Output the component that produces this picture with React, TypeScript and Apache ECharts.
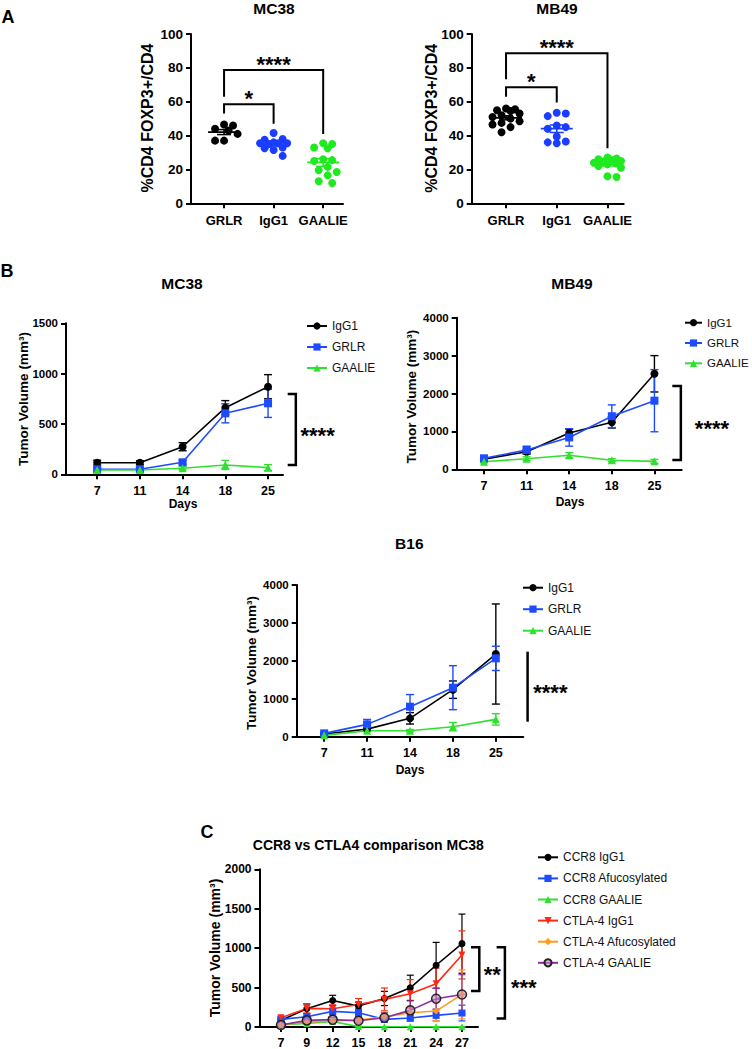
import React, { useEffect, useRef } from "react";
import * as echarts from "echarts";

const FONT = '"Liberation Sans", Arial, Helvetica, sans-serif';

// ---------------- Panel A (scatter, %CD4 FOXP3+/CD4) ----------------
const groupsA = ["GRLR", "IgG1", "GAALIE"];
const colorsA = ["#000000", "#1a3dff", "#1fea1f"];
const mc38A_GRLR = [46.5, 46, 44, 43, 41, 37, 37];
const mc38A_IgG1 = [41.5, 38, 37.5, 36, 35.5, 35.5, 35.5, 35, 33, 32.5, 31.5, 28];
const mc38A_GAALIE = [35.5, 35, 33, 32.5, 26, 25.5, 25, 21.5, 19.5, 18.5, 16.5, 13, 12];
const mb49A_GRLR = [56, 55.5, 55, 54.5, 53, 52, 51, 50, 48.5, 47.5, 46.5, 45, 42];
const mb49A_IgG1 = [53.5, 53, 51.5, 46, 45, 44, 39.5, 36.5, 36, 35.5];
const mb49A_GAALIE = [27, 26.5, 26, 25.5, 25, 24.5, 24, 23.5, 23, 22, 21, 16, 15.5];

// ---------------- Panel B (tumor volume) ----------------
const daysB = ["7", "11", "14", "18", "25"];
const namesB = ["IgG1", "GRLR", "GAALIE"];
const mc38B_IgG1 = [115, 115, 274, 662, 870];
const mc38B_IgG1_err = [25, 20, 40, 70, 120];
const mc38B_GRLR = [50, 50, 119, 606, 705];
const mc38B_GRLR_err = [15, 15, 20, 95, 140];
const mc38B_GAALIE = [43, 43, 60, 93, 66];
const mc38B_GAALIE_err = [10, 10, 15, 45, 30];

const mb49B_IgG1 = [264, 465, 960, 1240, 2520];
const mb49B_IgG1_err = [40, 60, 100, 150, 480];
const mb49B_GRLR = [290, 510, 840, 1400, 1810];
const mb49B_GRLR_err = [40, 100, 230, 300, 820];
const mb49B_GAALIE = [200, 280, 370, 240, 210];
const mb49B_GAALIE_err = [30, 50, 70, 40, 50];

const b16_IgG1 = [70, 200, 484, 1240, 2180];
const b16_IgG1_err = [20, 40, 150, 230, 1320];
const b16_GRLR = [88, 325, 791, 1292, 2066];
const b16_GRLR_err = [20, 130, 320, 580, 320];
const b16_GAALIE = [35, 158, 158, 264, 457];
const b16_GAALIE_err = [10, 30, 30, 110, 150];

// ---------------- Panel C ----------------
const daysC = ["7", "9", "12", "15", "18", "21", "24", "27"];
const namesC = ["CCR8 IgG1", "CCR8 Afucosylated", "CCR8 GAALIE", "CTLA-4 IgG1", "CTLA-4 Afucosylated", "CTLA-4 GAALIE"];
const c_CCR8_IgG1 = [84, 232, 337, 265, 362, 497, 783, 1057];
const c_CCR8_IgG1_err = [20, 60, 65, 50, 90, 160, 290, 375];
const c_CCR8_Afuc = [97, 130, 198, 181, 97, 114, 147, 177];
const c_CCR8_Afuc_err = [20, 40, 40, 50, 30, 40, 70, 100];
const c_CCR8_GAALIE = [30, 45, 70, 5, 3, 3, 2, 2];
const c_CCR8_GAALIE_err = [10, 15, 20, 5, 2, 2, 2, 2];
const c_CTLA4_IgG1 = [118, 236, 232, 286, 350, 421, 547, 914];
const c_CTLA4_IgG1_err = [20, 60, 50, 75, 145, 180, 200, 305];
const c_CTLA4_Afuc = [29, 63, 76, 88, 126, 181, 202, 413];
const c_CTLA4_Afuc_err = [10, 20, 25, 30, 60, 80, 120, 310];
const c_CTLA4_GAALIE = [25, 84, 93, 80, 118, 211, 358, 413];
const c_CTLA4_GAALIE_err = [10, 30, 30, 30, 60, 120, 130, 250];

// ---------------- helpers ----------------
function swarm(values: number[], kx: number, ky: number, d: number, maxW: number): number[] {
  const idx = values.map((_, i) => i).sort((a, b) => values[b] - values[a]);
  const placed: { x: number; y: number }[] = [];
  const out = new Array(values.length).fill(0);
  const step = d * 0.55;
  const cands: number[] = [0];
  for (let k = 1; k * step <= maxW + 0.01; k++) cands.push(k * step, -k * step);
  for (const i of idx) {
    const y = values[i] * ky;
    let chosen: number | null = null;
    let best = 0, bestD = -1;
    for (const c of cands) {
      const md = placed.length ? Math.min(...placed.map((p) => Math.hypot(p.x - c, p.y - y))) : Infinity;
      if (md >= d) { chosen = c; break; }
      if (md > bestD) { bestD = md; best = c; }
    }
    const x = chosen == null ? best : chosen;
    placed.push({ x, y });
    out[i] = x / kx;
  }
  return out;
}

function mean(a: number[]) {
  return a.reduce((s, v) => s + v, 0) / a.length;
}
function sem(a: number[]) {
  const m = mean(a);
  const v = a.reduce((s, x) => s + (x - m) * (x - m), 0) / (a.length - 1);
  return Math.sqrt(v) / Math.sqrt(a.length);
}

function lineEl(x1: number, y1: number, x2: number, y2: number, color: string, lw: number) {
  return { type: "line", shape: { x1, y1, x2, y2 }, style: { stroke: color, lineWidth: lw } };
}

function errSeries(grid: number, values: number[], errs: number[], color: string, cap: number, lw: number) {
  return {
    type: "custom",
    coordinateSystem: "cartesian2d",
    xAxisIndex: grid,
    yAxisIndex: grid,
    clip: false,
    silent: true,
    z: 2,
    encode: { x: 0, y: 1 },
    data: values.map((v, i) => [i, v, errs[i]]),
    renderItem: (params: any, api: any) => {
      const x = api.value(0), m = api.value(1), e = api.value(2);
      const top = api.coord([x, m + e]);
      const bot = api.coord([x, Math.max(0, m - e)]);
      return {
        type: "group",
        children: [
          lineEl(top[0], top[1], bot[0], bot[1], color, lw),
          lineEl(top[0] - cap / 2, top[1], top[0] + cap / 2, top[1], color, lw),
          lineEl(bot[0] - cap / 2, bot[1], bot[0] + cap / 2, bot[1], color, lw),
        ],
      };
    },
  };
}

function meanSemSeries(grid: number, gx: number, vals: number[], color: string) {
  const m = mean(vals), s = sem(vals);
  return {
    type: "custom",
    coordinateSystem: "cartesian2d",
    xAxisIndex: grid,
    yAxisIndex: grid,
    silent: true,
    z: 4,
    encode: { x: 0, y: 1 },
    data: [[gx, m, s]],
    renderItem: (params: any, api: any) => {
      const c = api.coord([api.value(0), api.value(1)]);
      const t = api.coord([api.value(0), api.value(1) + api.value(2)]);
      const b = api.coord([api.value(0), api.value(1) - api.value(2)]);
      return {
        type: "group",
        children: [
          lineEl(c[0] - 16, c[1], c[0] + 16, c[1], color, 1.8),
          lineEl(t[0], t[1], b[0], b[1], color, 1.5),
          lineEl(t[0] - 7, t[1], t[0] + 7, t[1], color, 1.5),
          lineEl(b[0] - 7, b[1], b[0] + 7, b[1], color, 1.5),
        ],
      };
    },
  };
}

function textEl(text: string, x: number, y: number, size: number, weight: string, extra: any = {}) {
  return {
    type: "text",
    x,
    y,
    silent: true,
    ...extra,
    style: {
      text,
      fill: "#000",
      font: `${weight} ${size}px ${FONT}`,
      textAlign: "center",
      textVerticalAlign: "middle",
    },
  };
}

function topBracketSeries(grid: number, list: any[], fontSize: number) {
  return {
    type: "custom",
    coordinateSystem: "cartesian2d",
    xAxisIndex: grid,
    yAxisIndex: grid,
    clip: false,
    silent: true,
    z: 5,
    data: list.map((_, i) => [i]),
    renderItem: (params: any, api: any) => {
      const b = list[params.dataIndex];
      const p1 = api.coord([b.x1, b.b1]);
      const p1t = api.coord([b.x1, b.top]);
      const p2t = api.coord([b.x2, b.top]);
      const p2 = api.coord([b.x2, b.b2]);
      const lab = api.coord([(b.x1 + b.x2) / 2, b.labelY]);
      return {
        type: "group",
        children: [
          { type: "polyline", shape: { points: [p1, p1t, p2t, p2] }, style: { stroke: "#000", lineWidth: 2, fill: "none" } },
          textEl(b.label, lab[0], lab[1] + fontSize * 0.22, fontSize, "bold"),
        ],
      };
    },
  };
}

function sideBracketSeries(grid: number, list: any[], fontSize: number) {
  return {
    type: "custom",
    coordinateSystem: "cartesian2d",
    xAxisIndex: grid,
    yAxisIndex: grid,
    clip: false,
    silent: true,
    z: 5,
    data: list.map((_, i) => [i]),
    renderItem: (params: any, api: any) => {
      const b = list[params.dataIndex];
      const pts =
        b.sx == null
          ? [api.coord([b.x, b.top]), api.coord([b.x, b.bottom])]
          : [api.coord([b.sx, b.top]), api.coord([b.x, b.top]), api.coord([b.x, b.bottom]), api.coord([b.sx, b.bottom])];
      const lab = api.coord([b.lx, b.ly]);
      return {
        type: "group",
        children: [
          { type: "polyline", shape: { points: pts }, style: { stroke: "#000", lineWidth: 2.5, fill: "none" } },
          textEl(b.label, lab[0], lab[1] + fontSize * 0.22, fontSize, "bold"),
        ],
      };
    },
  };
}

// ---------------- layout ----------------
const grids = [
  { left: 191, top: 34, width: 152, height: 169.3, xmin: 0.333, xmax: 3.4, ymax: 100, yint: 20, ticks: [1, 2, 3], labels: groupsA, yfs: 13.5, xfs: 13, xm: 11 },
  { left: 471.7, top: 34, width: 152, height: 169.3, xmin: 0.323, xmax: 3.32, ymax: 100, yint: 20, ticks: [1, 2, 3], labels: groupsA, yfs: 13.5, xfs: 13, xm: 11 },
  { left: 66, top: 323.3, width: 217, height: 151, xmin: -0.73, xmax: 4.35, ymax: 1500, yint: 500, ticks: [0, 1, 2, 3, 4], labels: daysB, yfs: 11.5, xfs: 12.5, xm: 10 },
  { left: 456.7, top: 317.7, width: 225, height: 151.6, xmin: -0.64, xmax: 4.64, ymax: 4000, yint: 1000, ticks: [0, 1, 2, 3, 4], labels: daysB, yfs: 11.5, xfs: 12.5, xm: 10 },
  { left: 296.7, top: 585, width: 226.6, height: 151.7, xmin: -0.64, xmax: 4.64, ymax: 4000, yint: 1000, ticks: [0, 1, 2, 3, 4], labels: daysB, yfs: 11.5, xfs: 12.5, xm: 10 },
  { left: 259.5, top: 869.3, width: 218.5, height: 158.4, xmin: -0.83, xmax: 7.62, ymax: 2000, yint: 500, ticks: [0, 1, 2, 3, 4, 5, 6, 7], labels: daysC, yfs: 12, xfs: 12.5, xm: 9 },
];

function buildOption() {
  const axisLine = { show: true, onZero: false, lineStyle: { color: "#000", width: 2 } };
  const axisTick = { show: true, length: 5, lineStyle: { color: "#000", width: 2 } };
  const grid = grids.map((g) => ({ left: g.left, top: g.top, width: g.width, height: g.height, containLabel: false }));
  const xAxis = grids.map((g, i) => ({
    type: "value",
    gridIndex: i,
    min: g.xmin,
    max: g.xmax,
    axisLine,
    axisTick: { ...axisTick, customValues: g.ticks },
    axisLabel: {
      customValues: g.ticks,
      formatter: (v: number) => g.labels[g.ticks.indexOf(Math.round(v))] ?? "",
      fontSize: g.xfs,
      fontWeight: "bold",
      fontFamily: FONT,
      color: "#000",
      margin: g.xm,
    },
    splitLine: { show: false },
  }));
  const yAxis = grids.map((g, i) => ({
    type: "value",
    gridIndex: i,
    min: 0,
    max: g.ymax,
    interval: g.yint,
    axisLine,
    axisTick,
    axisLabel: {
      fontSize: g.yfs,
      fontWeight: "bold",
      fontFamily: FONT,
      color: "#000",
      margin: 8,
      formatter: (v: number) => String(v),
    },
    splitLine: { show: false },
  }));

  const series: any[] = [];

  // Panel A scatter
  const aSets = [
    [mc38A_GRLR, mc38A_IgG1, mc38A_GAALIE],
    [mb49A_GRLR, mb49A_IgG1, mb49A_GAALIE],
  ];
  aSets.forEach((sets, gi) => {
    const g = grids[gi];
    const kx = g.width / (g.xmax - g.xmin);
    const ky = g.height / g.ymax;
    sets.forEach((vals, k) => {
      const off = swarm(vals, kx, ky, 8.2, 14);
      series.push({
        type: "scatter",
        xAxisIndex: gi,
        yAxisIndex: gi,
        symbol: "circle",
        symbolSize: 8,
        silent: true,
        z: 3,
        itemStyle: { color: colorsA[k], opacity: 1 },
        data: vals.map((v, j) => [k + 1 + off[j], v]),
      });
      series.push(meanSemSeries(gi, k + 1, vals, colorsA[k]));
    });
  });
  series.push(
    topBracketSeries(0, [
      { x1: 1, x2: 2, top: 58.5, b1: 53, b2: 47, label: "*", labelY: 65 },
      { x1: 1, x2: 3, top: 78.7, b1: 63, b2: 41, label: "****", labelY: 85 },
    ], 22)
  );
  series.push(
    topBracketSeries(1, [
      { x1: 1, x2: 2, top: 68.5, b1: 63, b2: 59.6, label: "*", labelY: 74.8 },
      { x1: 1, x2: 3, top: 88.6, b1: 73.2, b2: 32.5, label: "****", labelY: 95 },
    ], 22)
  );

  // Panel B lines
  const styleB = [
    { color: "#000000", symbol: "circle", size: 8 },
    { color: "#1f4bff", symbol: "rect", size: 8 },
    { color: "#2fe02f", symbol: "triangle", size: 8 },
  ];
  const bSets = [
    { grid: 2, tag: "m", vals: [mc38B_IgG1, mc38B_GRLR, mc38B_GAALIE], errs: [mc38B_IgG1_err, mc38B_GRLR_err, mc38B_GAALIE_err] },
    { grid: 3, tag: "b", vals: [mb49B_IgG1, mb49B_GRLR, mb49B_GAALIE], errs: [mb49B_IgG1_err, mb49B_GRLR_err, mb49B_GAALIE_err] },
    { grid: 4, tag: "s", vals: [b16_IgG1, b16_GRLR, b16_GAALIE], errs: [b16_IgG1_err, b16_GRLR_err, b16_GAALIE_err] },
  ];
  bSets.forEach((set) => {
    set.vals.forEach((vals, k) => {
      const st = styleB[k];
      series.push(errSeries(set.grid, vals, set.errs[k], st.color, 8, 1.4));
      series.push({
        type: "line",
        name: namesB[k] + "|" + set.tag,
        xAxisIndex: set.grid,
        yAxisIndex: set.grid,
        symbol: st.symbol,
        symbolSize: st.size,
        showSymbol: true,
        silent: true,
        z: 3,
        lineStyle: { color: st.color, width: 1.6 },
        itemStyle: { color: st.color },
        data: vals.map((v, i) => [i, v]),
      });
    });
  });
  series.push(sideBracketSeries(2, [{ x: 4.65, sx: 4.46, top: 798, bottom: 93, label: "****", lx: 5.16, ly: 433 }], 22));
  series.push(sideBracketSeries(3, [{ x: 4.62, sx: 4.42, top: 2198, bottom: 246, label: "****", lx: 5.35, ly: 1196 }], 22));
  series.push(sideBracketSeries(4, [{ x: 4.74, sx: null, top: 2242, bottom: 396, label: "****", lx: 5.27, ly: 1292 }], 22));

  // Panel C lines
  const styleC = [
    { color: "#000000", symbol: "circle", size: 7, item: { color: "#000000" } },
    { color: "#1f4bff", symbol: "rect", size: 7, item: { color: "#1f4bff" } },
    { color: "#2fe02f", symbol: "triangle", size: 7, item: { color: "#2fe02f" } },
    { color: "#ff2a12", symbol: "triangle", size: 7, rot: 180, item: { color: "#ff2a12" } },
    { color: "#ff9a1a", symbol: "diamond", size: 7, item: { color: "#ff9a1a" } },
    { color: "#8e2a9e", symbol: "circle", size: 9, item: { color: "rgba(200,140,210,0.55)", borderColor: "#222", borderWidth: 1.5 } },
  ];
  const cVals = [c_CCR8_IgG1, c_CCR8_Afuc, c_CCR8_GAALIE, c_CTLA4_IgG1, c_CTLA4_Afuc, c_CTLA4_GAALIE];
  const cErrs = [c_CCR8_IgG1_err, c_CCR8_Afuc_err, c_CCR8_GAALIE_err, c_CTLA4_IgG1_err, c_CTLA4_Afuc_err, c_CTLA4_GAALIE_err];
  cVals.forEach((vals, k) => {
    const st: any = styleC[k];
    series.push(errSeries(5, vals, cErrs[k], st.color, 7, 1.2));
    series.push({
      type: "line",
      name: namesC[k] + "|c",
      xAxisIndex: 5,
      yAxisIndex: 5,
      symbol: st.symbol,
      symbolSize: st.size,
      symbolRotate: st.rot || 0,
      showSymbol: true,
      silent: true,
      z: 3,
      lineStyle: { color: st.color, width: 1.6 },
      itemStyle: st.item,
      data: vals.map((v, i) => [i, v]),
    });
  });
  series.push(
    sideBracketSeries(5, [
      { x: 7.67, sx: 7.35, top: 1010, bottom: 455, label: "**", lx: 8.17, ly: 728 },
      { x: 8.66, sx: 8.34, top: 1010, bottom: 109, label: "***", lx: 9.39, ly: 560 },
    ], 22)
  );

  const legendBase = (left: number, top: number, gap: number, names: string[], tag: string, fs = 12, iw = 20) => ({
    orient: "vertical",
    left,
    top,
    itemWidth: iw,
    itemHeight: 9,
    itemGap: gap,
    selectedMode: false,
    padding: 0,
    data: names.map((n) => n + "|" + tag),
    formatter: (n: string) => n.split("|")[0],
    textStyle: { fontSize: fs, fontFamily: FONT, color: "#111", lineHeight: 14, padding: [0, 0, 0, 0] },
  });

  const legend = [
    legendBase(306, 319, 7, namesB, "m"),
    legendBase(684, 315.7, 6.3, namesB, "b", 11.5, 17),
    legendBase(522, 580.7, 7.5, namesB, "s"),
    legendBase(537, 850.3, 7.1, namesC, "c"),
  ];

  const R = Math.PI / 2;
  const graphic = [
    textEl("A", 8, 16.5, 18, "bold"),
    textEl("B", 7, 270.5, 18, "bold"),
    textEl("C", 207, 832, 18, "bold"),
    textEl("MC38", 274, 8.5, 15.5, "bold"),
    textEl("MB49", 557, 8.5, 15.5, "bold"),
    textEl("%CD4 FOXP3+/CD4", 147, 118, 16, "bold", { rotation: R }),
    textEl("%CD4 FOXP3+/CD4", 431.7, 118.3, 16, "bold", { rotation: R }),
    textEl("MC38", 182, 283, 15.5, "bold"),
    textEl("MB49", 572, 283, 15.5, "bold"),
    textEl("B16", 409.3, 543.3, 15.5, "bold"),
    textEl("CCR8 vs CTLA4 comparison MC38", 368.3, 845, 14, "bold"),
    textEl("Tumor Volume (mm³)", 23.3, 399, 13.5, "bold", { rotation: R }),
    textEl("Tumor Volume (mm³)", 411.7, 396.7, 13.5, "bold", { rotation: R }),
    textEl("Tumor Volume (mm³)", 251.7, 663, 13.5, "bold", { rotation: R }),
    textEl("Tumor Volume (mm³)", 215, 948, 14, "bold", { rotation: R }),
    textEl("Days", 183, 504, 12, "bold"),
    textEl("Days", 570, 502, 12, "bold"),
    textEl("Days", 410, 770, 12, "bold"),
  ];

  return {
    animation: false,
    backgroundColor: "#ffffff",
    textStyle: { fontFamily: FONT },
    grid,
    xAxis,
    yAxis,
    legend,
    series,
    graphic: { elements: graphic },
  };
}

export default function App() {
  const ref = useRef<HTMLDivElement>(null);
  useEffect(() => {
    const chart = echarts.init(ref.current as HTMLDivElement, null, { renderer: "svg", width: 752, height: 1049 });
    chart.setOption(buildOption() as any);
    return () => chart.dispose();
  }, []);
  return (
    <div
      ref={ref}
      style={{ position: "absolute", left: 0, top: 0, width: 752, height: 1049, background: "#fff" }}
    />
  );
}
